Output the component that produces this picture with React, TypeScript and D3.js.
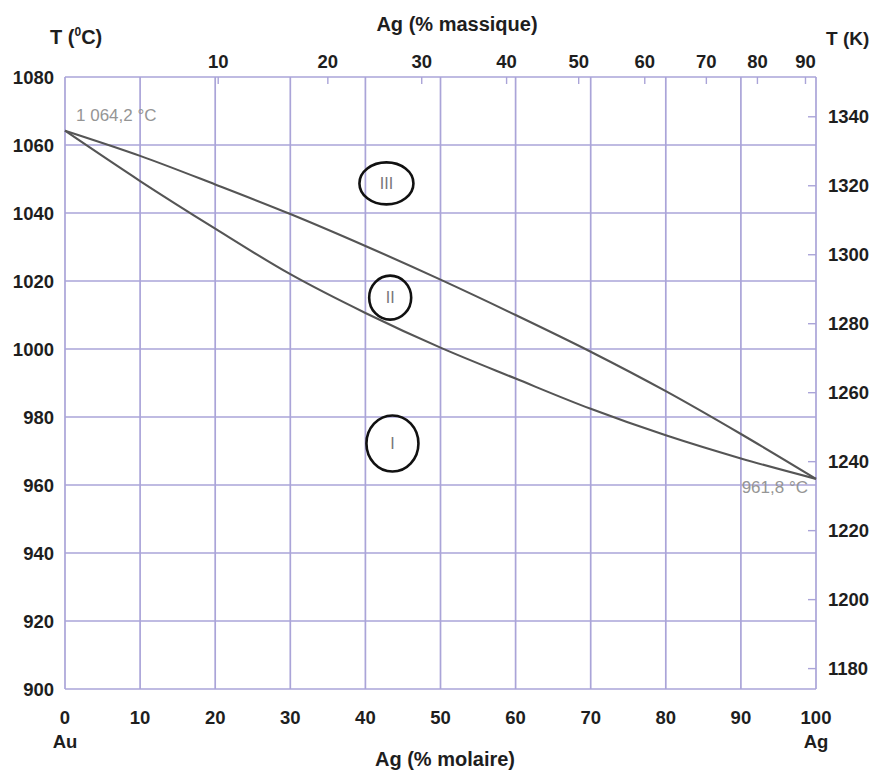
import { useEffect } from 'react';
import * as d3 from 'd3';

// Ag molar fraction (%) on the bottom axis
const molarPct = [0, 10, 20, 30, 40, 50, 60, 70, 80, 90, 100];
// liquidus (upper) and solidus (lower), °C
const liquidus = [1064.2, 1056.8, 1048.4, 1039.7, 1030.3, 1020.4, 1010.0, 999.2, 987.6, 975.0, 961.8];
const solidus = [1064.2, 1049.4, 1035.4, 1022.0, 1010.6, 1000.4, 991.3, 982.4, 974.6, 967.8, 961.8];

const celsiusTicks = [900, 920, 940, 960, 980, 1000, 1020, 1040, 1060, 1080];
const kelvinTicks = [1180, 1200, 1220, 1240, 1260, 1280, 1300, 1320, 1340];
// mass % labels and where they sit along the molar axis
const massLabels = [10, 20, 30, 40, 50, 60, 70, 80, 90];
const massAtMolar = [20.4, 35.0, 47.5, 58.8, 68.4, 77.2, 85.4, 92.2, 98.6];

const regions = [
  { label: 'III', x: 42.8, t: 1048.7, rx: 27, ry: 21 },
  { label: 'II', x: 43.3, t: 1015.1, rx: 21, ry: 22 },
  { label: 'I', x: 43.6, t: 972.2, rx: 26, ry: 28 },
];

const W = 880;
const H = 771;
const margin = { top: 77, right: 64, bottom: 82, left: 65 };
const grid = '#aaa4d8';
const font = '"Liberation Sans", Arial, sans-serif';
const ink = '#1e1e1e';

export default function App() {
  useEffect(() => {
    document.body.style.margin = '0';
  }, []);

  const x = d3.scaleLinear().domain([0, 100]).range([margin.left, W - margin.right]);
  const y = d3.scaleLinear().domain([900, 1080]).range([H - margin.bottom, margin.top]);
  // right axis: kelvin, as placed in the original figure
  const yK = d3.scaleLinear().domain([1180, 1340]).range([y(906), y(1068.3)]);

  const line = d3
    .line<number>()
    .x((_, i) => x(molarPct[i]))
    .y((d) => y(d))
    .curve(d3.curveCatmullRom);

  const x0 = x(0);
  const x1 = x(100);
  const yTop = y(1080);
  const yBot = y(900);

  return (
    <svg width={W} height={H} style={{ display: 'block', background: '#fff' }} fontFamily={font}>
      {/* grid */}
      {molarPct.map((m) => (
        <line key={'v' + m} x1={x(m)} x2={x(m)} y1={yTop} y2={yBot} stroke={grid} strokeWidth={1.7} />
      ))}
      {celsiusTicks.map((t) => (
        <line key={'h' + t} x1={x0} x2={x1} y1={y(t)} y2={y(t)} stroke={grid} strokeWidth={1.7} />
      ))}

      {/* top mass ticks */}
      {massAtMolar.map((m, i) => (
        <g key={'m' + i}>
          <line x1={x(m)} x2={x(m)} y1={yTop} y2={yTop + 7} stroke={grid} strokeWidth={1.4} />
          <text x={x(m)} y={yTop - 9} textAnchor="middle" fontSize={18.5} fontWeight="bold" fill={ink}>
            {massLabels[i]}
          </text>
        </g>
      ))}

      {/* right kelvin ticks */}
      {kelvinTicks.map((k) => (
        <g key={'k' + k}>
          <line x1={x1 - 8} x2={x1} y1={yK(k)} y2={yK(k)} stroke={grid} strokeWidth={1.4} />
          <text x={x1 + 12} y={yK(k)} dy="0.36em" fontSize={18.5} fontWeight="bold" fill={ink}>
            {k}
          </text>
        </g>
      ))}

      {/* left celsius labels */}
      {celsiusTicks.map((t) => (
        <text key={'c' + t} x={x0 - 11} y={y(t)} dy="0.36em" textAnchor="end" fontSize={18.5} fontWeight="bold" fill={ink}>
          {t}
        </text>
      ))}

      {/* bottom molar labels */}
      {molarPct.map((m) => (
        <text key={'b' + m} x={x(m)} y={yBot + 35} textAnchor="middle" fontSize={18.5} fontWeight="bold" fill={ink}>
          {m}
        </text>
      ))}

      {/* curves */}
      <path d={line(liquidus) || ''} fill="none" stroke="#555" strokeWidth={2.1} />
      <path d={line(solidus) || ''} fill="none" stroke="#555" strokeWidth={2.1} />

      {/* melting points */}
      <text x={x0 + 11} y={y(1064.2) - 10} fontSize={17} fill="#959595">
        1 064,2 °C
      </text>
      <text x={x1 - 8} y={y(961.8) + 14} textAnchor="end" fontSize={17} fill="#959595">
        961,8 °C
      </text>

      {/* region markers */}
      {regions.map((r) => (
        <g key={r.label}>
          <ellipse cx={x(r.x)} cy={y(r.t)} rx={r.rx} ry={r.ry} fill="none" stroke="#111" strokeWidth={2.6} />
          <text x={x(r.x)} y={y(r.t)} dy="0.36em" textAnchor="middle" fontSize={16} fill="#777">
            {r.label}
          </text>
        </g>
      ))}

      {/* axis titles */}
      <text x={50} y={44} fontSize={20} fontWeight="bold" fill={ink}>
        T (<tspan fontSize={12} dy={-8}>0</tspan>
        <tspan dy={8}>C)</tspan>
      </text>
      <text x={826} y={45} fontSize={19} fontWeight="bold" fill={ink}>
        T (K)
      </text>
      <text x={457} y={31} textAnchor="middle" fontSize={20} fontWeight="bold" fill={ink}>
        Ag (% massique)
      </text>
      <text x={x0} y={yBot + 59} textAnchor="middle" fontSize={18.5} fontWeight="bold" fill={ink}>
        Au
      </text>
      <text x={x1} y={yBot + 59} textAnchor="middle" fontSize={18.5} fontWeight="bold" fill={ink}>
        Ag
      </text>
      <text x={445} y={H - 5} textAnchor="middle" fontSize={20} fontWeight="bold" fill={ink}>
        Ag (% molaire)
      </text>
    </svg>
  );
}
